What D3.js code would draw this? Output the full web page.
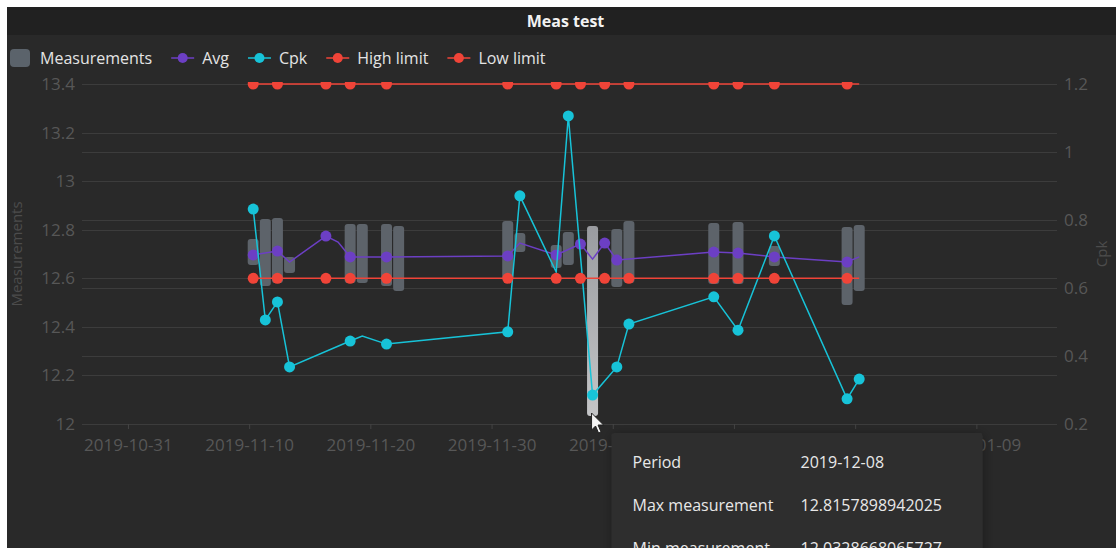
<!DOCTYPE html>
<html>
<head>
<meta charset="utf-8">
<script src="https://cdn.jsdelivr.net/npm/d3@7"></script>
<style>
  body { margin: 0; background: #fff; overflow: hidden; }
  svg { display: block; font-family: "Open Sans", "Noto Sans", sans-serif; }
</style>
</head>
<body>
<script>
const width = 1116;
const height = 548;

// Measurements (min / max per period)
const barDates = ["2019-11-10", "2019-11-11", "2019-11-12", "2019-11-13", "2019-11-18", "2019-11-19", "2019-11-21", "2019-11-22", "2019-12-01", "2019-12-02",
  "2019-12-05", "2019-12-06", "2019-12-08", "2019-12-10", "2019-12-11", "2019-12-18", "2019-12-20", "2019-12-23", "2019-12-29", "2019-12-30"];
const barMax = [12.762, 12.844, 12.848, 12.688, 12.824, 12.824, 12.824, 12.815, 12.836, 12.786,
  12.737, 12.791, 12.8157898942025, 12.803, 12.836, 12.828, 12.832, 12.733, 12.811, 12.819];
const barMin = [12.655, 12.568, 12.581, 12.622, 12.581, 12.581, 12.568, 12.548, 12.597, 12.708,
  12.642, 12.655, 12.0328668065727, 12.564, 12.581, 12.576, 12.576, 12.651, 12.490, 12.548];

// Avg
const avgDates = ["2019-11-10", "2019-11-12", "2019-11-13", "2019-11-16", "2019-11-17", "2019-11-18", "2019-11-21", "2019-12-01", "2019-12-02", "2019-12-05",
  "2019-12-07", "2019-12-08", "2019-12-09", "2019-12-10", "2019-12-18", "2019-12-20", "2019-12-23", "2019-12-29", "2019-12-30"];
const avgValues = [12.696, 12.712, 12.667, 12.774, 12.749, 12.688, 12.688, 12.692, 12.745, 12.696,
  12.741, 12.679, 12.745, 12.675, 12.708, 12.704, 12.688, 12.667, 12.688];
const avgMarker = [1, 1, 0, 1, 0, 1, 1, 1, 0, 1, 1, 0, 1, 1, 1, 1, 1, 1, 0];

// Cpk
const cpkDates = ["2019-11-10", "2019-11-11", "2019-11-12", "2019-11-13", "2019-11-18", "2019-11-19", "2019-11-21", "2019-12-01", "2019-12-02", "2019-12-05",
  "2019-12-06", "2019-12-08", "2019-12-10", "2019-12-11", "2019-12-18", "2019-12-20", "2019-12-23", "2019-12-29", "2019-12-30"];
const cpkValues = [0.832, 0.506, 0.559, 0.368, 0.444, 0.459, 0.435, 0.471, 0.871, 0.647,
  1.106, 0.285, 0.368, 0.494, 0.574, 0.476, 0.753, 0.274, 0.332];
const cpkMarker = [1, 1, 1, 1, 1, 0, 1, 1, 1, 0, 1, 1, 1, 1, 1, 1, 1, 1, 1];

// High / Low limit
const limitDates = ["2019-11-10", "2019-11-12", "2019-11-16", "2019-11-18", "2019-11-21", "2019-12-01", "2019-12-05", "2019-12-07", "2019-12-09", "2019-12-11",
  "2019-12-18", "2019-12-20", "2019-12-23", "2019-12-29", "2019-12-30"];
const highLimit = [13.4, 13.4, 13.4, 13.4, 13.4, 13.4, 13.4, 13.4, 13.4, 13.4, 13.4, 13.4, 13.4, 13.4, 13.4];
const lowLimit = [12.6, 12.6, 12.6, 12.6, 12.6, 12.6, 12.6, 12.6, 12.6, 12.6, 12.6, 12.6, 12.6, 12.6, 12.6];
const limitMarker = [1, 1, 1, 1, 1, 1, 1, 1, 1, 1, 1, 1, 1, 1, 0];

const xTicks = ["2019-10-31", "2019-11-10", "2019-11-20", "2019-11-30", "2019-12-10", "2019-12-20", "2019-12-30", "2020-01-09"];
const yTicks = [12, 12.2, 12.4, 12.6, 12.8, 13, 13.2, 13.4];
const cpkTicks = [0.2, 0.4, 0.6, 0.8, 1, 1.2];

const hoverDate = "2019-12-08";
const legendNames = ["Measurements", "Avg", "Cpk", "High limit", "Low limit"];

const colAvg = "#6c3fc4", colCpk = "#17c3d8", colLimit = "#f04438", colBar = "#5d636a";
const tickColor = "#575757";

// data points are stamped in the morning, ticks at midnight
const pt = s => new Date(s + "T08:00:00Z");
const tk = s => new Date(s + "T00:00:00Z");

const plotL = 82, plotR = 1057, plotT = 84, plotB = 424;

const x = d3.scaleUtc()
  .domain([new Date("2019-10-27T05:00:00Z"), new Date("2020-01-15T15:40:00Z")])
  .range([plotL, plotR]);
const y = d3.scaleLinear().domain([12, 13.4]).range([plotB, plotT]);
const yc = d3.scaleLinear().domain([0.2, 1.2]).range([plotB, plotT]);

const svg = d3.select("body").append("svg")
  .attr("width", width)
  .attr("height", height);

const defs = svg.append("defs");
const grad = defs.append("linearGradient").attr("id", "hl").attr("x1", 0).attr("y1", 0).attr("x2", 0).attr("y2", 1);
grad.append("stop").attr("offset", 0).attr("stop-color", "#9a9ca0");
grad.append("stop").attr("offset", 1).attr("stop-color", "#c4c5c7");
defs.append("clipPath").attr("id", "plotclip")
  .append("rect").attr("x", 0).attr("y", 82).attr("width", width).attr("height", height);
const shadow = defs.append("filter").attr("id", "tipshadow")
  .attr("x", -0.1).attr("y", -0.2).attr("width", 1.2).attr("height", 1.5);
shadow.append("feDropShadow").attr("dx", 1).attr("dy", 2).attr("stdDeviation", 6)
  .attr("flood-color", "#000").attr("flood-opacity", 0.35);

// panel + title bar
svg.append("rect").attr("x", 7).attr("y", 7).attr("width", width - 7).attr("height", height - 7).attr("fill", "#292929");
svg.append("rect").attr("x", 7).attr("y", 7).attr("width", width - 7).attr("height", 28).attr("fill", "#212121");
svg.append("text")
  .attr("x", (7 + width) / 2 + 4).attr("y", 27)
  .attr("text-anchor", "middle")
  .attr("fill", "#f2f2f2").attr("font-size", 16).attr("font-weight", 700)
  .text("Meas test");

// grid lines for both value axes
const grid = svg.append("g").attr("stroke", "#3c3c3c").attr("stroke-width", 1);
grid.selectAll(".gl").data(yTicks).enter().append("line")
  .attr("x1", plotL).attr("x2", plotR)
  .attr("y1", d => Math.round(y(d)) + 0.5).attr("y2", d => Math.round(y(d)) + 0.5);
grid.selectAll(".gr").data(cpkTicks).enter().append("line")
  .attr("x1", plotL).attr("x2", plotR)
  .attr("y1", d => Math.round(yc(d)) + 0.5).attr("y2", d => Math.round(yc(d)) + 0.5);

// axes
const styleAxis = g => {
  g.select(".domain").remove();
  g.selectAll("text").attr("fill", tickColor).attr("font-size", 17).attr("font-family", "Open Sans, sans-serif");
  g.selectAll("line").attr("stroke", "#444");
};

svg.append("g").attr("transform", `translate(${plotL},0)`)
  .call(d3.axisLeft(y).tickValues(yTicks).tickSize(0).tickPadding(7).tickFormat(d3.format("~g")))
  .call(styleAxis);

svg.append("g").attr("transform", `translate(${plotR},0)`)
  .call(d3.axisRight(yc).tickValues(cpkTicks).tickSize(0).tickPadding(7).tickFormat(d3.format("~g")))
  .call(styleAxis);

svg.append("g").attr("transform", `translate(0,${plotB})`)
  .call(d3.axisBottom(x).tickValues(xTicks.map(tk)).tickSize(5).tickPadding(10).tickFormat(d3.utcFormat("%Y-%m-%d")))
  .call(styleAxis);

// axis names
svg.append("text")
  .attr("transform", `translate(16,${(plotT + plotB) / 2}) rotate(-90)`)
  .attr("text-anchor", "middle").attr("dominant-baseline", "central")
  .attr("fill", "#4c4c4c").attr("font-size", 15)
  .text("Measurements");
svg.append("text")
  .attr("transform", `translate(1101,${(plotT + plotB) / 2}) rotate(-90)`)
  .attr("text-anchor", "middle").attr("dominant-baseline", "central")
  .attr("fill", "#4c4c4c").attr("font-size", 15)
  .text("Cpk");

// Measurements bars
const bars = barDates.map((d, i) => ({ date: pt(d), raw: d, min: barMin[i], max: barMax[i] }));
const barW = 11;
svg.append("g").selectAll("rect").data(bars).enter().append("rect")
  .attr("x", d => x(d.date) - barW / 2)
  .attr("y", d => y(d.max))
  .attr("width", barW)
  .attr("height", d => y(d.min) - y(d.max))
  .attr("rx", 3)
  .attr("fill", d => d.raw === hoverDate ? "url(#hl)" : colBar);

// line series helper
const drawSeries = (dates, values, markers, scale, color, clip) => {
  const pts = dates.map((d, i) => ({ date: pt(d), v: values[i], m: markers[i] }));
  const g = svg.append("g");
  if (clip) g.attr("clip-path", "url(#plotclip)");
  g.append("path")
    .datum(pts)
    .attr("fill", "none")
    .attr("stroke", color)
    .attr("stroke-width", 1.5)
    .attr("d", d3.line().x(d => x(d.date)).y(d => scale(d.v)));
  g.selectAll("circle").data(pts.filter(d => d.m)).enter().append("circle")
    .attr("cx", d => x(d.date))
    .attr("cy", d => scale(d.v))
    .attr("r", 5.5)
    .attr("fill", color);
};

drawSeries(avgDates, avgValues, avgMarker, y, colAvg, false);
drawSeries(cpkDates, cpkValues, cpkMarker, yc, colCpk, false);
drawSeries(limitDates, highLimit, limitMarker, y, colLimit, true);
drawSeries(limitDates, lowLimit, limitMarker, y, colLimit, false);

// legend
const legend = svg.append("g").attr("font-size", 16).attr("fill", "#e4e4e4");
const legendColors = [colBar, colAvg, colCpk, colLimit, colLimit];
let lx = 10;
const ly = 58;
legendNames.forEach((name, i) => {
  if (i === 0) {
    legend.append("rect").attr("x", lx).attr("y", ly - 9).attr("width", 20).attr("height", 18)
      .attr("rx", 4).attr("fill", "#5b636b");
    lx += 30;
  } else {
    legend.append("line").attr("x1", lx).attr("x2", lx + 23).attr("y1", ly).attr("y2", ly)
      .attr("stroke", legendColors[i]).attr("stroke-width", 1.5);
    legend.append("circle").attr("cx", lx + 11.5).attr("cy", ly).attr("r", 5).attr("fill", legendColors[i]);
    lx += 31;
  }
  const t = legend.append("text").attr("x", lx).attr("y", ly).attr("dy", "0.35em").text(name);
  lx += t.node().getComputedTextLength() + 19;
});

// tooltip for the hovered period
const hb = bars.find(d => d.raw === hoverDate);
const mx = x(hb.date), my = y(hb.min) - 3;
const tip = svg.append("g").attr("transform", `translate(${mx + 19},${my + 20})`);
tip.append("rect").attr("width", 371).attr("height", 150).attr("rx", 3)
  .attr("fill", "#2e2e2e").attr("filter", "url(#tipshadow)");
const rows = [["Period", hb.raw], ["Max measurement", String(hb.max)], ["Min measurement", String(hb.min)]];
rows.forEach((r, i) => {
  tip.append("text").attr("x", 21).attr("y", 35 + i * 43).attr("font-size", 16).attr("fill", "#e8e8e8").text(r[0]);
  tip.append("text").attr("x", 189).attr("y", 35 + i * 43).attr("font-size", 16).attr("fill", "#e8e8e8").text(r[1]);
});

// mouse pointer
svg.append("path")
  .attr("transform", `translate(${mx - 1},${my})`)
  .attr("d", "M0,0 L0,17 L4,13 L7,20 L9.5,19 L6.5,12 L12,12 Z")
  .attr("fill", "#f4f4f4").attr("stroke", "#222").attr("stroke-width", 1);
</script>
</body>
</html>
